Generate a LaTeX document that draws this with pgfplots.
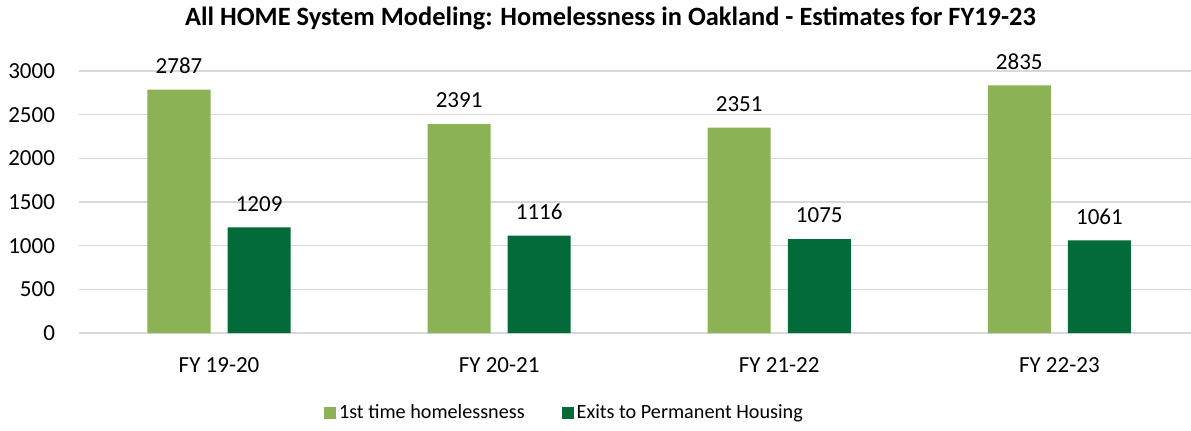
\documentclass[border=0pt]{standalone}
\usepackage{pgfplots}
\pgfplotsset{compat=1.18}
\usepackage{fontspec}
\setmainfont{Carlito}
\definecolor{lgreen}{RGB}{139,178,84}
\definecolor{dgreen}{RGB}{3,106,58}
\definecolor{gridc}{RGB}{217,217,217}
\begin{document}
\fontsize{11.5pt}{14pt}\selectfont
\begin{tikzpicture}
\useasboundingbox (-39.5pt,-48.5pt) rectangle (556pt,166.5pt);
\begin{axis}[
  scale only axis,
  width=556pt, height=131pt,
  xmin=-0.5, xmax=3.47,
  ymin=0, ymax=3000,
  ytick={0,500,...,3000},
  xtick={0,1,2,3},
  xticklabels={FY 19-20, FY 20-21, FY 21-22, FY 22-23},
  axis line style={draw=none},
  major tick length=0pt,
  ymajorgrids,
  grid style={gridc, line width=0.8pt},
  /pgf/number format/assume math mode=true,
  /pgf/number format/1000 sep={},
  tick label style={font=\fontsize{11.5pt}{14pt}\selectfont},
  yticklabel style={xshift=-8pt},
  xticklabel style={yshift=-8.5pt},
  ybar,
  bar width=0.225,
  nodes near coords,
  every node near coord/.append style={font=\fontsize{11.5pt}{14pt}\selectfont, yshift=4pt, /pgf/number format/assume math mode=true, /pgf/number format/1000 sep={}},
  title={All HOME System Modeling: Homelessness in Oakland - Estimates for FY19-23},
  title style={at={(0.478,1)}, anchor=center, yshift=20.5pt, font=\fontsize{13.2pt}{15pt}\selectfont\bfseries},
  legend style={at={(0.437,-0.305)}, anchor=center, draw=none, legend columns=2,
    font=\fontsize{10.1pt}{12pt}\selectfont,
    /tikz/every even column/.append style={column sep=17pt},
    nodes={inner sep=1.5pt}},
  legend image code/.code={\fill[#1] (0pt,-3pt) rectangle (6pt,3pt);},
]
\addplot[fill=lgreen, draw=none, bar shift=-0.143] coordinates {(0,2787) (1,2391) (2,2351) (3,2835)};
\addlegendentry{1st time homelessness}
\addplot[fill=dgreen, draw=none, bar shift=0.143] coordinates {(0,1209) (1,1116) (2,1075) (3,1061)};
\addlegendentry{Exits to Permanent Housing}
\end{axis}
\end{tikzpicture}
\end{document}
